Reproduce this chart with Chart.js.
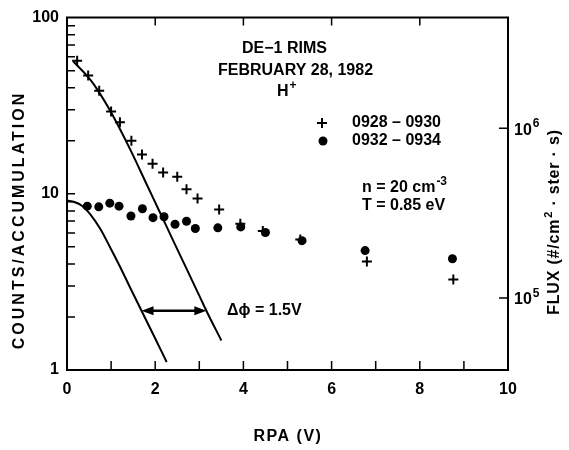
<!DOCTYPE html>
<html>
<head>
<meta charset="utf-8">
<script src="https://cdn.jsdelivr.net/npm/chart.js@4.4.1/dist/chart.umd.min.js"></script>
<style>
    html, body { margin: 0; padding: 0; background: #fff; }
</style>
</head>
<body>
<canvas id="rimsChart" width="569" height="450"></canvas>
<script>
// DE-1 RIMS, H+ retarding potential analyser sweeps
const rpa0928 = [0.23, 0.48, 0.73, 1.00, 1.20, 1.46, 1.70, 1.94, 2.18, 2.50, 2.71, 2.96, 3.45, 3.93, 4.44, 5.29, 6.80, 8.76];
const counts0928 = [56.9, 46.9, 38.4, 29.3, 25.5, 20.0, 16.7, 14.8, 13.2, 12.5, 10.6, 9.4, 8.15, 6.77, 6.14, 5.51, 4.13, 3.26];

const rpa0932 = [0.46, 0.72, 0.97, 1.18, 1.45, 1.71, 1.95, 2.20, 2.45, 2.71, 2.91, 3.42, 3.94, 4.50, 5.33, 6.76, 8.74];
const counts0932 = [8.51, 8.43, 8.85, 8.51, 7.48, 8.22, 7.32, 7.41, 6.72, 6.99, 6.35, 6.41, 6.49, 6.03, 5.42, 4.76, 4.28];

// model curves (n = 20 cm-3, T = 0.85 eV), shifted by 1.5 V
const fitRpaA = [0, 0.18, 0.33, 0.52, 0.75, 0.97, 1.20, 1.43, 1.69, 1.95, 2.26];
const fitCountsA = [9.16, 8.96, 8.59, 7.70, 6.35, 5.01, 3.87, 2.94, 2.17, 1.60, 1.11];
const fitRpaB = [0.14, 0.45, 0.60, 0.97, 1.46, 1.80, 2.10, 2.40, 2.71, 3.01, 3.16, 3.50];
const fitCountsB = [56.5, 46.9, 42.1, 29.9, 17.3, 11.4, 7.91, 5.48, 3.76, 2.61, 2.17, 1.47];

// delta phi arrow
const arrowRpa = [1.69, 3.16];
const arrowCounts = 2.17;

// ticks
const rpaLabelTicks = [0, 2, 4, 6, 8, 10];
const rpaInnerTicks = [1, 2, 3, 4, 5, 6, 7, 8, 9];
const rpaTopTicks = [2, 4, 6, 8];
const countTicks = [1, 10, 100];
const countInnerTicks = [2, 3, 4, 5, 6, 7, 8, 9, 10, 20, 30, 40, 50, 60, 70, 80, 90];
const fluxTicks = [1e5, 1e6];
const fluxExponents = ['5', '6'];
const fluxRange = [3.76e4, 4.48e6];

const FONT = '"Liberation Sans", Arial, sans-serif';

function toPoints(xs, ys) {
    return xs.map((x, i) => ({ x: x, y: ys[i] }));
}

function drawSup(ctx, base, sup, x, y, size) {
    // draws base text followed by a superscript, returns width
    ctx.font = `700 ${size}px ${FONT}`;
    ctx.fillText(base, x, y);
    const w = ctx.measureText(base).width;
    ctx.font = `700 ${Math.round(size * 0.72)}px ${FONT}`;
    ctx.fillText(sup, x + w + 1, y - size * 0.38);
    return w + 1 + ctx.measureText(sup).width;
}

const paperPlugin = {
    id: 'paper',
    afterDraw(chart) {
        const ctx = chart.ctx;
        const { left, right, top, bottom } = chart.chartArea;
        const x = chart.scales.x, y = chart.scales.y, y2 = chart.scales.y2;

        ctx.save();
        ctx.strokeStyle = '#000';
        ctx.fillStyle = '#000';
        ctx.lineWidth = 2;

        // top frame line
        ctx.beginPath();
        ctx.moveTo(left - 1, top);
        ctx.lineTo(right + 1, top);
        ctx.stroke();

        // inward tick marks
        ctx.lineWidth = 1.5;
        ctx.beginPath();
        rpaInnerTicks.forEach(v => {
            const px = x.getPixelForValue(v);
            ctx.moveTo(px, bottom);
            ctx.lineTo(px, bottom - 9);
        });
        rpaTopTicks.forEach(v => {
            const px = x.getPixelForValue(v);
            ctx.moveTo(px, top);
            ctx.lineTo(px, top + 8);
        });
        countInnerTicks.forEach(v => {
            const py = y.getPixelForValue(v);
            ctx.moveTo(left, py);
            ctx.lineTo(left + 8, py);
        });
        fluxTicks.forEach(v => {
            const py = y2.getPixelForValue(v);
            ctx.moveTo(right, py);
            ctx.lineTo(right - 9, py);
        });
        ctx.stroke();

        // right axis labels 10^5, 10^6
        ctx.textAlign = 'left';
        ctx.textBaseline = 'middle';
        fluxTicks.forEach((v, i) => {
            drawSup(ctx, '10', fluxExponents[i], right + 6, y2.getPixelForValue(v) + 2, 16);
        });

        // delta phi arrow
        const ay = y.getPixelForValue(arrowCounts);
        const ax0 = x.getPixelForValue(arrowRpa[0]);
        const ax1 = x.getPixelForValue(arrowRpa[1]);
        ctx.lineWidth = 2.5;
        ctx.beginPath();
        ctx.moveTo(ax0 + 6, ay);
        ctx.lineTo(ax1 - 6, ay);
        ctx.stroke();
        ctx.beginPath();
        ctx.moveTo(ax0, ay); ctx.lineTo(ax0 + 12, ay - 4.5); ctx.lineTo(ax0 + 12, ay + 4.5); ctx.closePath();
        ctx.moveTo(ax1, ay); ctx.lineTo(ax1 - 12, ay - 4.5); ctx.lineTo(ax1 - 12, ay + 4.5); ctx.closePath();
        ctx.fill();

        // annotation text
        ctx.font = `700 16px ${FONT}`;
        ctx.fillText('DE\u22121 RIMS', 242, 49);
        ctx.fillText('FEBRUARY 28, 1982', 218, 71);
        drawSup(ctx, 'H', '+', 277, 92, 16);

        // legend
        ctx.lineWidth = 2;
        ctx.beginPath();
        ctx.moveTo(317, 123); ctx.lineTo(327, 123);
        ctx.moveTo(322, 118); ctx.lineTo(322, 128);
        ctx.stroke();
        ctx.beginPath();
        ctx.arc(323, 141, 4.5, 0, Math.PI * 2);
        ctx.fill();
        ctx.font = `700 16px ${FONT}`;
        ctx.fillText('0928 \u2013 0930', 352, 123);
        ctx.fillText('0932 \u2013 0934', 352, 141);

        drawSup(ctx, 'n = 20 cm', '-3', 362, 188, 16);
        ctx.font = `700 16px ${FONT}`;
        ctx.fillText('T = 0.85 eV', 362, 206);
        ctx.fillText('\u0394\u03d5 = 1.5V', 227, 311);

        // axis titles
        ctx.letterSpacing = '3px';
        ctx.textAlign = 'center';
        ctx.save();
        ctx.translate(20, 220);
        ctx.rotate(-Math.PI / 2);
        ctx.fillText('COUNTS/ACCUMULATION', 0, 0);
        ctx.restore();

        ctx.letterSpacing = '1.5px';
        ctx.fillText('RPA (V)', 288, 437);

        ctx.letterSpacing = '0.8px';
        ctx.save();
        ctx.translate(555, 222);
        ctx.rotate(-Math.PI / 2);
        ctx.textAlign = 'left';
        ctx.font = `700 16px ${FONT}`;
        const partA = 'FLUX (#/cm', partB = ' \u00b7 ster \u00b7 s)';
        const wA = ctx.measureText(partA).width;
        const wB = ctx.measureText(partB).width;
        ctx.font = `700 11px ${FONT}`;
        const wS = ctx.measureText('2').width + 1;
        let sx = -(wA + wS + wB) / 2;
        ctx.font = `700 16px ${FONT}`;
        ctx.fillText(partA, sx, 0);
        ctx.font = `700 11px ${FONT}`;
        ctx.fillText('2', sx + wA + 1, -6);
        ctx.font = `700 16px ${FONT}`;
        ctx.fillText(partB, sx + wA + wS, 0);
        ctx.restore();

        ctx.letterSpacing = '0px';
        ctx.restore();
    }
};

const chartData = {
    datasets: [
        {
            label: 'fit 0932 - 0934',
            data: toPoints(fitRpaA, fitCountsA),
            showLine: true,
            borderColor: '#000',
            borderWidth: 2,
            pointRadius: 0,
            cubicInterpolationMode: 'monotone'
        },
        {
            label: 'fit 0928 - 0930',
            data: toPoints(fitRpaB, fitCountsB),
            showLine: true,
            borderColor: '#000',
            borderWidth: 2,
            pointRadius: 0,
            cubicInterpolationMode: 'monotone'
        },
        {
            label: '0928 - 0930',
            data: toPoints(rpa0928, counts0928),
            showLine: false,
            pointStyle: 'cross',
            pointRadius: 5,
            borderColor: '#000',
            borderWidth: 2
        },
        {
            label: '0932 - 0934',
            data: toPoints(rpa0932, counts0932),
            showLine: false,
            pointStyle: 'circle',
            pointRadius: 4.5,
            backgroundColor: '#000',
            borderColor: '#000',
            borderWidth: 0
        }
    ]
};

const tickFont = { family: FONT, size: 16, weight: 'bold' };

const chartConfig = {
    type: 'scatter',
    data: chartData,
    options: {
        responsive: false,
        animation: false,
        layout: { padding: { top: 13, left: 0, right: 0, bottom: 0 } },
        plugins: {
            legend: { display: false },
            tooltip: { enabled: false }
        },
        scales: {
            x: {
                type: 'linear',
                position: 'bottom',
                min: 0,
                max: 10,
                afterBuildTicks: s => { s.ticks = rpaLabelTicks.map(v => ({ value: v })); },
                afterFit: s => { s.height = 80; },
                ticks: { color: '#000', font: tickFont, padding: 10, maxRotation: 0 },
                grid: { drawOnChartArea: false, drawTicks: false },
                border: { display: true, color: '#000', width: 2 }
            },
            y: {
                type: 'logarithmic',
                position: 'left',
                min: 1,
                max: 100,
                afterBuildTicks: s => { s.ticks = countTicks.map(v => ({ value: v })); },
                afterFit: s => { s.width = 67; },
                ticks: { color: '#000', font: tickFont, padding: 8, callback: v => String(v) },
                grid: { drawOnChartArea: false, drawTicks: false },
                border: { display: true, color: '#000', width: 2 }
            },
            y2: {
                type: 'logarithmic',
                position: 'right',
                min: fluxRange[0],
                max: fluxRange[1],
                afterBuildTicks: s => { s.ticks = fluxTicks.map(v => ({ value: v })); },
                afterFit: s => { s.width = 61; },
                ticks: { display: false },
                grid: { drawOnChartArea: false, drawTicks: false },
                border: { display: true, color: '#000', width: 2 }
            }
        }
    },
    plugins: [paperPlugin]
};

window.rimsChart = new Chart(document.getElementById('rimsChart'), chartConfig);
</script>
</body>
</html>
